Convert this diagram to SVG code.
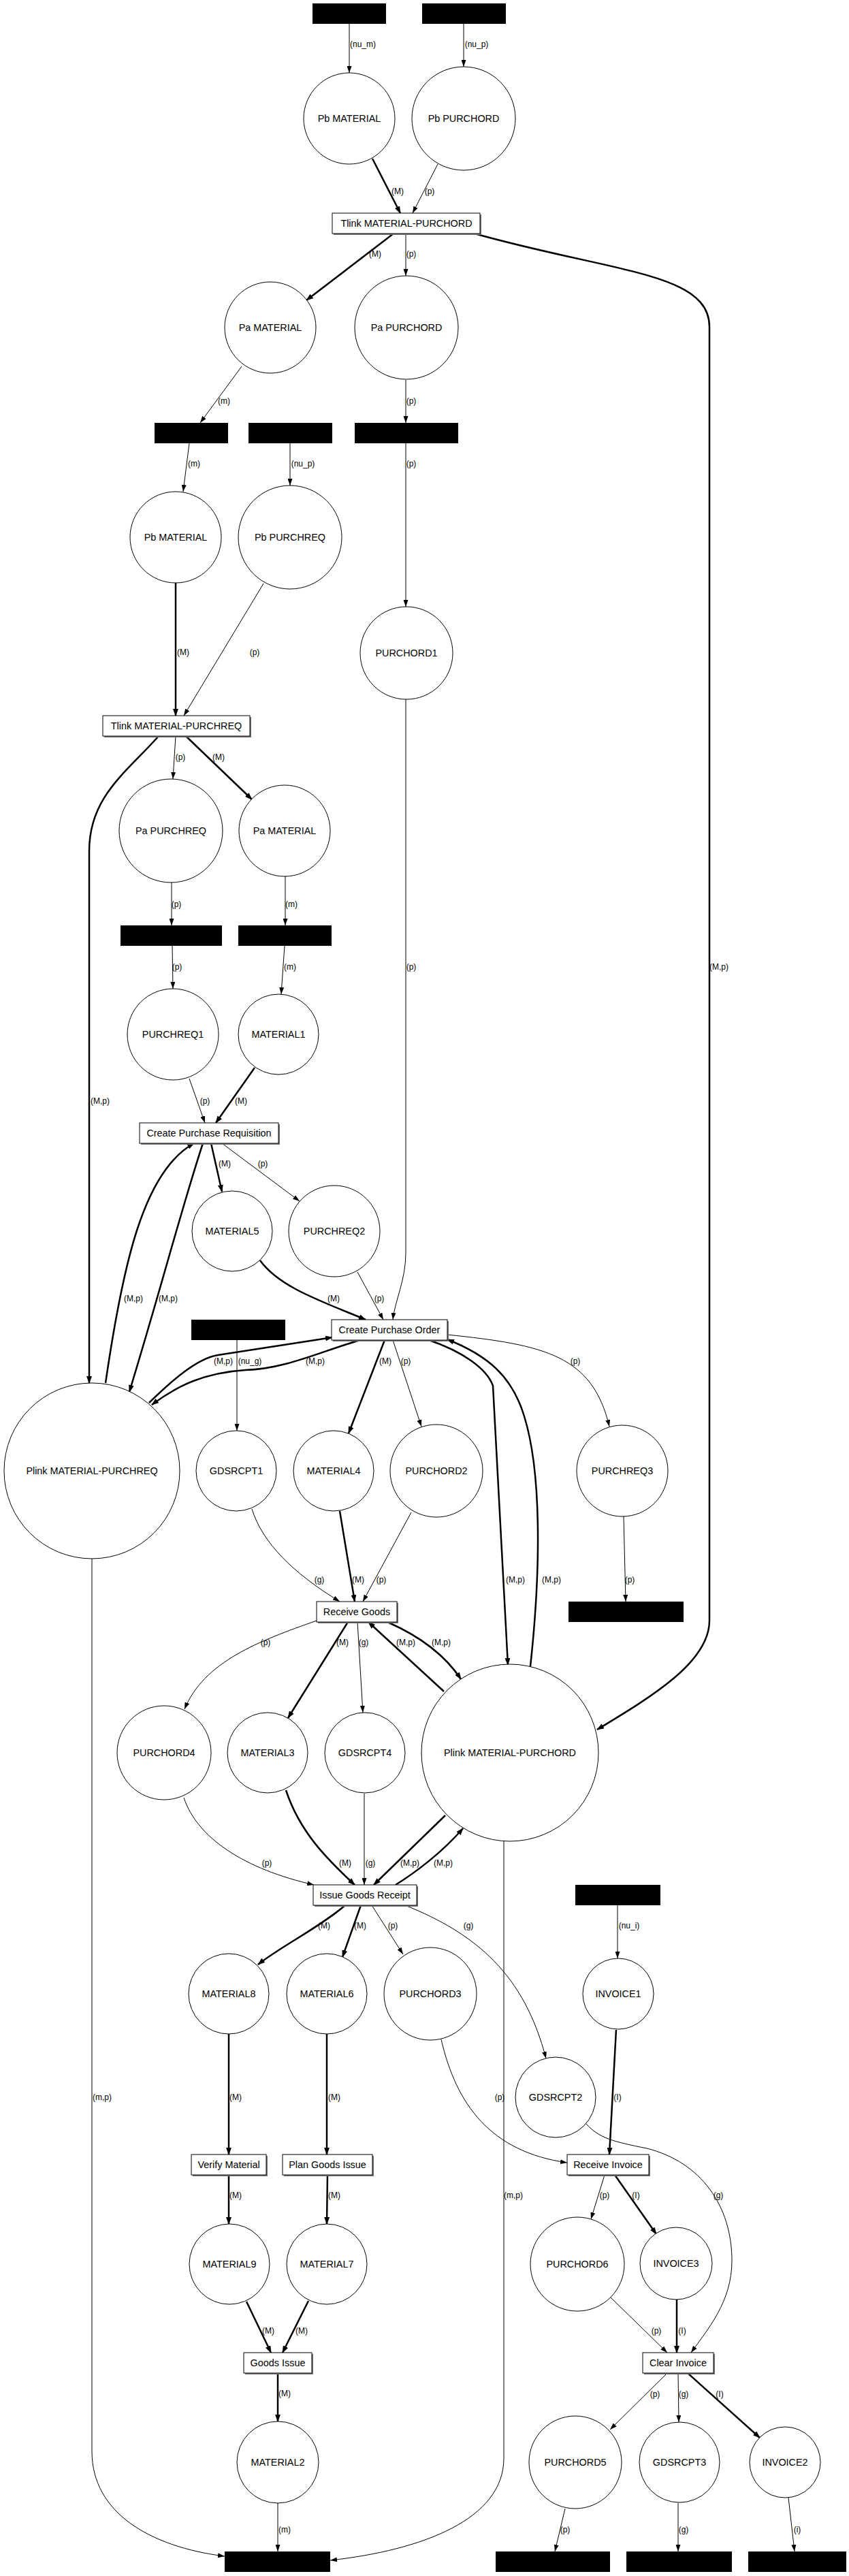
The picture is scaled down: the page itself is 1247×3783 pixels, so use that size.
<svg xmlns="http://www.w3.org/2000/svg" width="1247" height="3783" viewBox="0 0 1247 3783">
<style>
.n{fill:#fff;stroke:#000;stroke-width:1}
.t{fill:#fff;stroke:#000;stroke-width:1}
.s{fill:#777}
.k{fill:#000}
.e{fill:none;stroke:#000;stroke-width:1;marker-end:url(#a)}
.E{fill:none;stroke:#000;stroke-width:2.5;marker-end:url(#A)}
text{font-family:"Liberation Sans",Arial,sans-serif;text-anchor:middle;fill:#000}
.nl{font-size:14.4px}
.el{font-size:12px}
</style>
<defs>
<marker id="a" markerWidth="10" markerHeight="7" refX="10" refY="3.5" orient="auto" markerUnits="userSpaceOnUse"><path d="M0,0 L10,3.5 L0,7 z"/></marker>
<marker id="A" markerWidth="11" markerHeight="8" refX="10" refY="4" orient="auto" markerUnits="userSpaceOnUse"><path d="M0,0 L11,4 L0,8 z"/></marker>
</defs>
<rect width="1247" height="3783" fill="#fff"/>

<g id="connectors">
<path class="e" d="M513,35 L513,107"/><text class="el" x="533" y="69">(nu_m)</text>
<path class="e" d="M681,35 L681,98"/><text class="el" x="700" y="69">(nu_p)</text>
<path class="E" d="M547,233 L588,313"/><text class="el" x="584" y="285">(M)</text>
<path class="e" d="M643,241 L606,313"/><text class="el" x="631" y="285">(p)</text>
<path class="E" d="M578,343 L450,441"/><text class="el" x="551" y="377">(M)</text>
<path class="e" d="M596,343 L596,405"/><text class="el" x="604" y="377">(p)</text>
<path class="E" d="M697,343 C900,400 1042,400 1042,480 L1042,2380 C1042,2440 960,2490 877,2540"/><text class="el" x="1056" y="1424">(M,p)</text>
<path class="e" d="M278,651 L269,722"/><text class="el" x="285" y="685">(m)</text>
<path class="e" d="M426,651 L426,713"/><text class="el" x="445" y="685">(nu_p)</text>
<path class="e" d="M596,651 L596,891"/><text class="el" x="604" y="685">(p)</text>
<path class="e" d="M355,538 L294,621"/><text class="el" x="329" y="593">(m)</text>
<path class="e" d="M596,558 L596,621"/><text class="el" x="604" y="593">(p)</text>
<path class="E" d="M258,856 L258,1051"/><text class="el" x="269" y="962">(M)</text>
<path class="e" d="M387,857 L270,1051"/><text class="el" x="374" y="962">(p)</text>
<path class="e" d="M258,1081 L254,1144"/><text class="el" x="265" y="1116">(p)</text>
<path class="E" d="M273,1081 L370,1174"/><text class="el" x="321" y="1116">(M)</text>
<path class="E" d="M233,1081 C185,1135 131,1170 131,1250 L131,2031"/><text class="el" x="147" y="1621">(M,p)</text>
<path class="e" d="M252,1296 L252,1359"/><text class="el" x="259" y="1332">(p)</text>
<path class="e" d="M419,1287 L419,1359"/><text class="el" x="428" y="1332">(m)</text>
<path class="e" d="M253,1389 L254,1452"/><text class="el" x="260" y="1424">(p)</text>
<path class="e" d="M418,1389 L413,1460"/><text class="el" x="426" y="1424">(m)</text>
<path class="e" d="M278,1584 L301,1649"/><text class="el" x="301" y="1621">(p)</text>
<path class="E" d="M374,1568 L317,1649"/><text class="el" x="354" y="1621">(M)</text>
<path class="E" d="M310,1679 L326,1750"/><text class="el" x="330" y="1713">(M)</text>
<path class="e" d="M326,1679 L440,1764"/><text class="el" x="386" y="1713">(p)</text>
<path class="E" d="M155,2031 C180,1860 210,1720 285,1679"/><text class="el" x="196" y="1911">(M,p)</text>
<path class="E" d="M298,1679 C265,1780 240,1880 190,2044"/><text class="el" x="247" y="1911">(M,p)</text>
<path class="E" d="M382,1851 C410,1890 470,1910 537,1938"/><text class="el" x="490" y="1911">(M)</text>
<path class="e" d="M525,1868 L563,1938"/><text class="el" x="557" y="1911">(p)</text>
<path class="e" d="M596,1027 L596,1840 C596,1880 580,1910 577,1938"/><text class="el" x="604" y="1424">(p)</text>
<path class="e" d="M348,1968 L348,2101"/><text class="el" x="367" y="2003">(nu_g)</text>
<path class="E" d="M219,2060 C255,2025 290,1995 320,1990 C370,1982 430,1973 488,1964"/><text class="el" x="328" y="2003">(M,p)</text>
<path class="E" d="M529,1968 C470,1985 420,2010 360,2012 C300,2016 260,2035 223,2063"/><text class="el" x="463" y="2003">(M,p)</text>
<path class="E" d="M565,1968 L512,2105"/><text class="el" x="566" y="2003">(M)</text>
<path class="e" d="M577,1968 L619,2095"/><text class="el" x="596" y="2003">(p)</text>
<path class="e" d="M657,1960 C800,1975 870,1990 895,2095"/><text class="el" x="845" y="2003">(p)</text>
<path class="E" d="M630,1968 C680,1985 715,2010 724,2035 L746,2445"/><text class="el" x="757" y="2324">(M,p)</text>
<path class="E" d="M779,2447 C795,2300 795,2160 770,2080 C752,2020 715,1990 657,1967"/><text class="el" x="810" y="2324">(M,p)</text>
<path class="e" d="M916,2227 L919,2352"/><text class="el" x="925" y="2324">(p)</text>
<path class="e" d="M370,2216 C385,2265 430,2310 499,2352"/><text class="el" x="469" y="2324">(g)</text>
<path class="E" d="M499,2219 L521,2352"/><text class="el" x="526" y="2324">(M)</text>
<path class="e" d="M604,2221 L533,2352"/><text class="el" x="560" y="2324">(p)</text>
<path class="e" d="M465,2380 C380,2410 300,2440 271,2510"/><text class="el" x="390" y="2416">(p)</text>
<path class="E" d="M511,2382 L423,2523"/><text class="el" x="503" y="2416">(M)</text>
<path class="e" d="M525,2382 L533,2515"/><text class="el" x="534" y="2416">(g)</text>
<path class="E" d="M652,2484 L541,2382"/><text class="el" x="596" y="2416">(M,p)</text>
<path class="E" d="M569,2382 C610,2400 650,2425 677,2466"/><text class="el" x="648" y="2416">(M,p)</text>
<path class="e" d="M270,2640 C290,2700 360,2745 461,2768"/><text class="el" x="392" y="2740">(p)</text>
<path class="E" d="M420,2629 C440,2690 480,2730 521,2768"/><text class="el" x="507" y="2740">(M)</text>
<path class="e" d="M535,2634 L535,2768"/><text class="el" x="544" y="2740">(g)</text>
<path class="E" d="M654,2666 L549,2768"/><text class="el" x="602" y="2740">(M,p)</text>
<path class="E" d="M581,2768 C610,2750 650,2720 680,2685"/><text class="el" x="651" y="2740">(M,p)</text>
<path class="e" d="M907,2798 L907,2876"/><text class="el" x="924" y="2832">(nu_i)</text>
<path class="E" d="M507,2798 C470,2830 410,2860 379,2885"/><text class="el" x="476" y="2832">(M)</text>
<path class="E" d="M530,2798 L503,2874"/><text class="el" x="529" y="2832">(M)</text>
<path class="e" d="M546,2798 L592,2870"/><text class="el" x="577" y="2832">(p)</text>
<path class="e" d="M595,2798 C700,2840 770,2900 802,3023"/><text class="el" x="688" y="2832">(g)</text>
<path class="E" d="M336,2987 L336,3164"/><text class="el" x="346" y="3084">(M)</text>
<path class="E" d="M480,2987 L480,3164"/><text class="el" x="491" y="3084">(M)</text>
<path class="e" d="M648,2995 C670,3090 720,3160 833,3176"/><text class="el" x="734" y="3084">(p)</text>
<path class="E" d="M905,2981 L895,3164"/><text class="el" x="907" y="3084">(I)</text>
<path class="E" d="M336,3194 L336,3266"/><text class="el" x="346" y="3228">(M)</text>
<path class="E" d="M481,3194 L480,3266"/><text class="el" x="491" y="3228">(M)</text>
<path class="e" d="M888,3194 L868,3259"/><text class="el" x="888" y="3228">(p)</text>
<path class="E" d="M903,3194 L964,3281"/><text class="el" x="934" y="3228">(I)</text>
<path class="e" d="M861,3119 C880,3140 900,3145 950,3155 C1030,3175 1075,3240 1075,3320 C1075,3380 1040,3420 1015,3455"/><text class="el" x="1055" y="3228">(g)</text>
<path class="E" d="M362,3380 L398,3455"/><text class="el" x="394" y="3427">(M)</text>
<path class="E" d="M453,3379 L415,3455"/><text class="el" x="443" y="3427">(M)</text>
<path class="e" d="M897,3374 L980,3455"/><text class="el" x="964" y="3427">(p)</text>
<path class="E" d="M994,3377 L994,3455"/><text class="el" x="1002" y="3427">(I)</text>
<path class="E" d="M408,3485 L408,3556"/><text class="el" x="418" y="3519">(M)</text>
<path class="e" d="M980,3485 L896,3568"/><text class="el" x="962" y="3520">(p)</text>
<path class="e" d="M996,3485 L997,3557"/><text class="el" x="1004" y="3520">(g)</text>
<path class="E" d="M1010,3485 L1116,3580"/><text class="el" x="1057" y="3520">(I)</text>
<path class="e" d="M408,3676 L408,3747"/><text class="el" x="418" y="3719">(m)</text>
<path class="e" d="M135,2289 L135,3600 C135,3690 220,3740 330,3754"/><text class="el" x="150" y="3084">(m,p)</text>
<path class="e" d="M740,2704 L740,3610 C740,3700 620,3745 485,3760"/><text class="el" x="754" y="3228">(m,p)</text>
<path class="e" d="M830,3684 L815,3747"/><text class="el" x="830" y="3719">(p)</text>
<path class="e" d="M996,3676 L996,3747"/><text class="el" x="1004" y="3719">(g)</text>
<path class="e" d="M1158,3668 L1167,3747"/><text class="el" x="1171" y="3719">(i)</text>
</g>

<g id="b1"><rect class="k" x="459" y="5" width="108" height="30"/></g>
<g id="b2"><rect class="k" x="620" y="5" width="123" height="30"/></g>
<g id="b3"><rect class="k" x="227" y="621" width="108" height="30"/></g>
<g id="b4"><rect class="k" x="365" y="621" width="123" height="30"/></g>
<g id="b5"><rect class="k" x="521" y="621" width="152" height="30"/></g>
<g id="b6"><rect class="k" x="177" y="1359" width="149" height="30"/></g>
<g id="b7"><rect class="k" x="350" y="1359" width="137" height="30"/></g>
<g id="b8"><rect class="k" x="281" y="1938" width="138" height="30"/></g>
<g id="b9"><rect class="k" x="835" y="2352" width="169" height="30"/></g>
<g id="b10"><rect class="k" x="845" y="2768" width="125" height="30"/></g>
<g id="b11"><rect class="k" x="330" y="3747" width="155" height="30"/></g>
<g id="b12"><rect class="k" x="728" y="3747" width="168" height="30"/></g>
<g id="b13"><rect class="k" x="920" y="3747" width="155" height="30"/></g>
<g id="b14"><rect class="k" x="1099" y="3747" width="144" height="30"/></g>

<g id="pb_material_1"><circle class="n" cx="513" cy="174" r="67"/><text class="nl" x="513" y="179">Pb MATERIAL</text></g>
<g id="pb_purchord"><circle class="n" cx="681" cy="174" r="76"/><text class="nl" x="681" y="179">Pb PURCHORD</text></g>
<g id="pa_material_1"><circle class="n" cx="397" cy="481" r="67"/><text class="nl" x="397" y="486">Pa MATERIAL</text></g>
<g id="pa_purchord"><circle class="n" cx="597" cy="481" r="76"/><text class="nl" x="597" y="486">Pa PURCHORD</text></g>
<g id="pb_material_2"><circle class="n" cx="258" cy="789" r="67"/><text class="nl" x="258" y="794">Pb MATERIAL</text></g>
<g id="pb_purchreq"><circle class="n" cx="426" cy="789" r="76"/><text class="nl" x="426" y="794">Pb PURCHREQ</text></g>
<g id="purchord1"><circle class="n" cx="597" cy="959" r="68"/><text class="nl" x="597" y="964">PURCHORD1</text></g>
<g id="pa_purchreq"><circle class="n" cx="251" cy="1220" r="76"/><text class="nl" x="251" y="1225">Pa PURCHREQ</text></g>
<g id="pa_material_2"><circle class="n" cx="418" cy="1220" r="67"/><text class="nl" x="418" y="1225">Pa MATERIAL</text></g>
<g id="purchreq1"><circle class="n" cx="254" cy="1519" r="67"/><text class="nl" x="254" y="1524">PURCHREQ1</text></g>
<g id="material1"><circle class="n" cx="409" cy="1519" r="59"/><text class="nl" x="409" y="1524">MATERIAL1</text></g>
<g id="material5"><circle class="n" cx="341" cy="1808" r="59"/><text class="nl" x="341" y="1813">MATERIAL5</text></g>
<g id="purchreq2"><circle class="n" cx="491" cy="1808" r="67"/><text class="nl" x="491" y="1813">PURCHREQ2</text></g>
<g id="plink_material_purchreq"><circle class="n" cx="135" cy="2160" r="129"/><text class="nl" x="135" y="2165">Plink MATERIAL-PURCHREQ</text></g>
<g id="gdsrcpt1"><circle class="n" cx="347" cy="2160" r="59"/><text class="nl" x="347" y="2165">GDSRCPT1</text></g>
<g id="material4"><circle class="n" cx="490" cy="2160" r="59"/><text class="nl" x="490" y="2165">MATERIAL4</text></g>
<g id="purchord2"><circle class="n" cx="641" cy="2160" r="68"/><text class="nl" x="641" y="2165">PURCHORD2</text></g>
<g id="purchreq3"><circle class="n" cx="914" cy="2160" r="67"/><text class="nl" x="914" y="2165">PURCHREQ3</text></g>
<g id="purchord4"><circle class="n" cx="241" cy="2574" r="69"/><text class="nl" x="241" y="2579">PURCHORD4</text></g>
<g id="material3"><circle class="n" cx="393" cy="2574" r="59"/><text class="nl" x="393" y="2579">MATERIAL3</text></g>
<g id="gdsrcpt4"><circle class="n" cx="536" cy="2574" r="59"/><text class="nl" x="536" y="2579">GDSRCPT4</text></g>
<g id="plink_material_purchord"><circle class="n" cx="749" cy="2574" r="130"/><text class="nl" x="749" y="2579">Plink MATERIAL-PURCHORD</text></g>
<g id="material8"><circle class="n" cx="336" cy="2928" r="59"/><text class="nl" x="336" y="2933">MATERIAL8</text></g>
<g id="material6"><circle class="n" cx="480" cy="2928" r="59"/><text class="nl" x="480" y="2933">MATERIAL6</text></g>
<g id="purchord3"><circle class="n" cx="632" cy="2928" r="68"/><text class="nl" x="632" y="2933">PURCHORD3</text></g>
<g id="invoice1"><circle class="n" cx="908" cy="2928" r="52"/><text class="nl" x="908" y="2933">INVOICE1</text></g>
<g id="gdsrcpt2"><circle class="n" cx="816" cy="3080" r="59"/><text class="nl" x="816" y="3085">GDSRCPT2</text></g>
<g id="material9"><circle class="n" cx="337" cy="3325" r="59"/><text class="nl" x="337" y="3330">MATERIAL9</text></g>
<g id="material7"><circle class="n" cx="480" cy="3325" r="59"/><text class="nl" x="480" y="3330">MATERIAL7</text></g>
<g id="purchord6"><circle class="n" cx="848" cy="3325" r="69"/><text class="nl" x="848" y="3330">PURCHORD6</text></g>
<g id="invoice3"><circle class="n" cx="993" cy="3324" r="53"/><text class="nl" x="993" y="3329">INVOICE3</text></g>
<g id="material2"><circle class="n" cx="408" cy="3616" r="60"/><text class="nl" x="408" y="3621">MATERIAL2</text></g>
<g id="purchord5"><circle class="n" cx="845" cy="3616" r="68"/><text class="nl" x="845" y="3621">PURCHORD5</text></g>
<g id="gdsrcpt3"><circle class="n" cx="998" cy="3616" r="59"/><text class="nl" x="998" y="3621">GDSRCPT3</text></g>
<g id="invoice2"><circle class="n" cx="1153" cy="3616" r="52"/><text class="nl" x="1153" y="3621">INVOICE2</text></g>

<g id="tlink_material_purchord"><rect class="s" x="490" y="315" width="217" height="30"/><rect class="t" x="488" y="313" width="217" height="30"/><text class="nl" x="597" y="333">Tlink MATERIAL-PURCHORD</text></g>
<g id="tlink_material_purchreq"><rect class="s" x="153" y="1053" width="216" height="30"/><rect class="t" x="151" y="1051" width="216" height="30"/><text class="nl" x="259" y="1071">Tlink MATERIAL-PURCHREQ</text></g>
<g id="create_purchase_requisition"><rect class="s" x="207" y="1651" width="204" height="30"/><rect class="t" x="205" y="1649" width="204" height="30"/><text class="nl" x="307" y="1669">Create Purchase Requisition</text></g>
<g id="create_purchase_order"><rect class="s" x="489" y="1940" width="170" height="30"/><rect class="t" x="487" y="1938" width="170" height="30"/><text class="nl" x="572" y="1958">Create Purchase Order</text></g>
<g id="receive_goods"><rect class="s" x="467" y="2354" width="118" height="30"/><rect class="t" x="465" y="2352" width="118" height="30"/><text class="nl" x="524" y="2372">Receive Goods</text></g>
<g id="issue_goods_receipt"><rect class="s" x="462" y="2770" width="152" height="30"/><rect class="t" x="460" y="2768" width="152" height="30"/><text class="nl" x="536" y="2788">Issue Goods Receipt</text></g>
<g id="verify_material"><rect class="s" x="283" y="3166" width="110" height="30"/><rect class="t" x="281" y="3164" width="110" height="30"/><text class="nl" x="336" y="3184">Verify Material</text></g>
<g id="plan_goods_issue"><rect class="s" x="417" y="3166" width="132" height="30"/><rect class="t" x="415" y="3164" width="132" height="30"/><text class="nl" x="481" y="3184">Plan Goods Issue</text></g>
<g id="receive_invoice"><rect class="s" x="835" y="3166" width="120" height="30"/><rect class="t" x="833" y="3164" width="120" height="30"/><text class="nl" x="893" y="3184">Receive Invoice</text></g>
<g id="goods_issue"><rect class="s" x="360" y="3457" width="100" height="30"/><rect class="t" x="358" y="3455" width="100" height="30"/><text class="nl" x="408" y="3475">Goods Issue</text></g>
<g id="clear_invoice"><rect class="s" x="946" y="3457" width="104" height="30"/><rect class="t" x="944" y="3455" width="104" height="30"/><text class="nl" x="996" y="3475">Clear Invoice</text></g>
</svg>
